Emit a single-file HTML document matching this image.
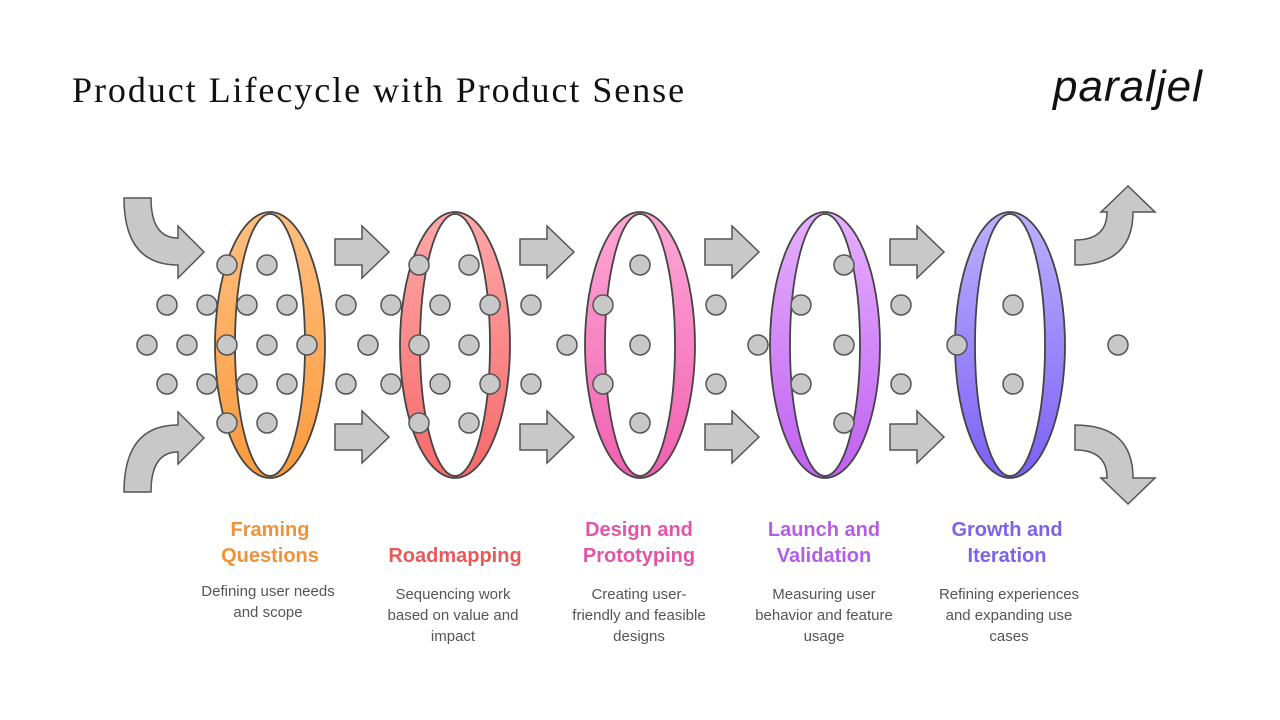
<!DOCTYPE html>
<html><head><meta charset="utf-8"><style>
html,body{margin:0;padding:0;background:#fff}
body{width:1280px;height:720px;position:relative;overflow:hidden;font-family:"Liberation Sans",sans-serif}
.t{position:absolute;left:72px;top:69px;font-family:"Liberation Serif",serif;font-size:36px;letter-spacing:1.95px;color:#111}
.logo{position:absolute;left:1053px;top:62px;font-size:44px;font-style:italic;color:#111;letter-spacing:1px}
.lab{position:absolute;width:180px;text-align:center;font-weight:bold;font-size:20px;line-height:26px}
.desc{position:absolute;width:160px;text-align:center;font-size:15px;line-height:21px;color:#555}
</style></head><body>
<div class="t">Product Lifecycle with Product Sense</div>
<div class="logo">paraljel</div>
<svg width="1280" height="720" style="position:absolute;left:0;top:0">
<defs>
<linearGradient id="g1" x1="0" y1="0" x2="0" y2="1"><stop offset="0" stop-color="#ffbf80"/><stop offset="1" stop-color="#fb9a3c"/></linearGradient>
<linearGradient id="g2" x1="0" y1="0" x2="0" y2="1"><stop offset="0" stop-color="#ffa8a8"/><stop offset="1" stop-color="#f66a6a"/></linearGradient>
<linearGradient id="g3" x1="0" y1="0" x2="0" y2="1"><stop offset="0" stop-color="#ffa8d6"/><stop offset="1" stop-color="#f060b0"/></linearGradient>
<linearGradient id="g4" x1="0" y1="0" x2="0" y2="1"><stop offset="0" stop-color="#e6b0ff"/><stop offset="1" stop-color="#c060f0"/></linearGradient>
<linearGradient id="g5" x1="0" y1="0" x2="0" y2="1"><stop offset="0" stop-color="#bcb0ff"/><stop offset="1" stop-color="#7b60f5"/></linearGradient>
</defs>
<g fill="#c8c8c8" stroke="#555" stroke-width="1.5">
<path d="M124,198 H151 Q151,238 178,238 V226 L204,252 L178,278 V265 Q124,265 124,198 Z"/>
<path d="M124,492 H151 Q151,452 178,452 V464 L204,438 L178,412 V425 Q124,425 124,492 Z"/>
<path d="M1075,240 Q1107,240 1107,212 H1101 L1128,186 L1155,212 H1133 Q1133,265 1075,265 Z"/>
<path d="M1075,450 Q1107,450 1107,478 H1101 L1128,504 L1155,478 H1133 Q1133,425 1075,425 Z"/>
<g id="sa"><path d="M335,239 H362 V226 L389,252 L362,278 V265 H335 Z"/><path d="M335,424 H362 V411 L389,437 L362,463 V450 H335 Z"/></g>
<use href="#sa" x="185"/><use href="#sa" x="370"/><use href="#sa" x="555"/>
</g>
<g stroke="#444" stroke-width="1.8">
<g><ellipse cx="270" cy="345" rx="55" ry="133" fill="url(#g1)"/><ellipse cx="270" cy="345" rx="35" ry="131" fill="#fff"/></g>
<g><ellipse cx="455" cy="345" rx="55" ry="133" fill="url(#g2)"/><ellipse cx="455" cy="345" rx="35" ry="131" fill="#fff"/></g>
<g><ellipse cx="640" cy="345" rx="55" ry="133" fill="url(#g3)"/><ellipse cx="640" cy="345" rx="35" ry="131" fill="#fff"/></g>
<g><ellipse cx="825" cy="345" rx="55" ry="133" fill="url(#g4)"/><ellipse cx="825" cy="345" rx="35" ry="131" fill="#fff"/></g>
<g><ellipse cx="1010" cy="345" rx="55" ry="133" fill="url(#g5)"/><ellipse cx="1010" cy="345" rx="35" ry="131" fill="#fff"/></g>
</g>
<g fill="#c8c8c8" stroke="#555" stroke-width="1.5">
<circle cx="227" cy="265" r="10"/><circle cx="267" cy="265" r="10"/>
<circle cx="167" cy="305" r="10"/><circle cx="207" cy="305" r="10"/><circle cx="247" cy="305" r="10"/><circle cx="287" cy="305" r="10"/>
<circle cx="147" cy="345" r="10"/><circle cx="187" cy="345" r="10"/><circle cx="227" cy="345" r="10"/><circle cx="267" cy="345" r="10"/><circle cx="307" cy="345" r="10"/>
<circle cx="167" cy="384" r="10"/><circle cx="207" cy="384" r="10"/><circle cx="247" cy="384" r="10"/><circle cx="287" cy="384" r="10"/>
<circle cx="227" cy="423" r="10"/><circle cx="267" cy="423" r="10"/>
<circle cx="419" cy="265" r="10"/><circle cx="469" cy="265" r="10"/>
<circle cx="346" cy="305" r="10"/><circle cx="391" cy="305" r="10"/><circle cx="440" cy="305" r="10"/><circle cx="490" cy="305" r="10"/>
<circle cx="368" cy="345" r="10"/><circle cx="419" cy="345" r="10"/><circle cx="469" cy="345" r="10"/>
<circle cx="346" cy="384" r="10"/><circle cx="391" cy="384" r="10"/><circle cx="440" cy="384" r="10"/><circle cx="490" cy="384" r="10"/>
<circle cx="419" cy="423" r="10"/><circle cx="469" cy="423" r="10"/>
<circle cx="640" cy="265" r="10"/>
<circle cx="531" cy="305" r="10"/><circle cx="603" cy="305" r="10"/>
<circle cx="567" cy="345" r="10"/><circle cx="640" cy="345" r="10"/>
<circle cx="531" cy="384" r="10"/><circle cx="603" cy="384" r="10"/>
<circle cx="640" cy="423" r="10"/>
<circle cx="844" cy="265" r="10"/>
<circle cx="716" cy="305" r="10"/><circle cx="801" cy="305" r="10"/>
<circle cx="758" cy="345" r="10"/><circle cx="844" cy="345" r="10"/>
<circle cx="716" cy="384" r="10"/><circle cx="801" cy="384" r="10"/>
<circle cx="844" cy="423" r="10"/>
<circle cx="901" cy="305" r="10"/><circle cx="1013" cy="305" r="10"/>
<circle cx="957" cy="345" r="10"/>
<circle cx="901" cy="384" r="10"/><circle cx="1013" cy="384" r="10"/>
<circle cx="1118" cy="345" r="10"/>
</g>
</svg>
<div class="lab" style="left:180px;top:517px;color:#f0923a">Framing<br>Questions</div>
<div class="lab" style="left:365px;top:543px;color:#e85a5a">Roadmapping</div>
<div class="lab" style="left:549px;top:517px;color:#e055a8">Design and<br>Prototyping</div>
<div class="lab" style="left:734px;top:517px;color:#b45ee8">Launch and<br>Validation</div>
<div class="lab" style="left:917px;top:517px;color:#7b63ea">Growth and<br>Iteration</div>
<div class="desc" style="left:188px;top:581px">Defining user needs and scope</div>
<div class="desc" style="left:373px;top:584px">Sequencing work based on value and impact</div>
<div class="desc" style="left:564px;top:584px;width:150px">Creating user-<br>friendly and feasible designs</div>
<div class="desc" style="left:744px;top:584px">Measuring user behavior and feature usage</div>
<div class="desc" style="left:929px;top:584px">Refining experiences and expanding use cases</div>
</body></html>
